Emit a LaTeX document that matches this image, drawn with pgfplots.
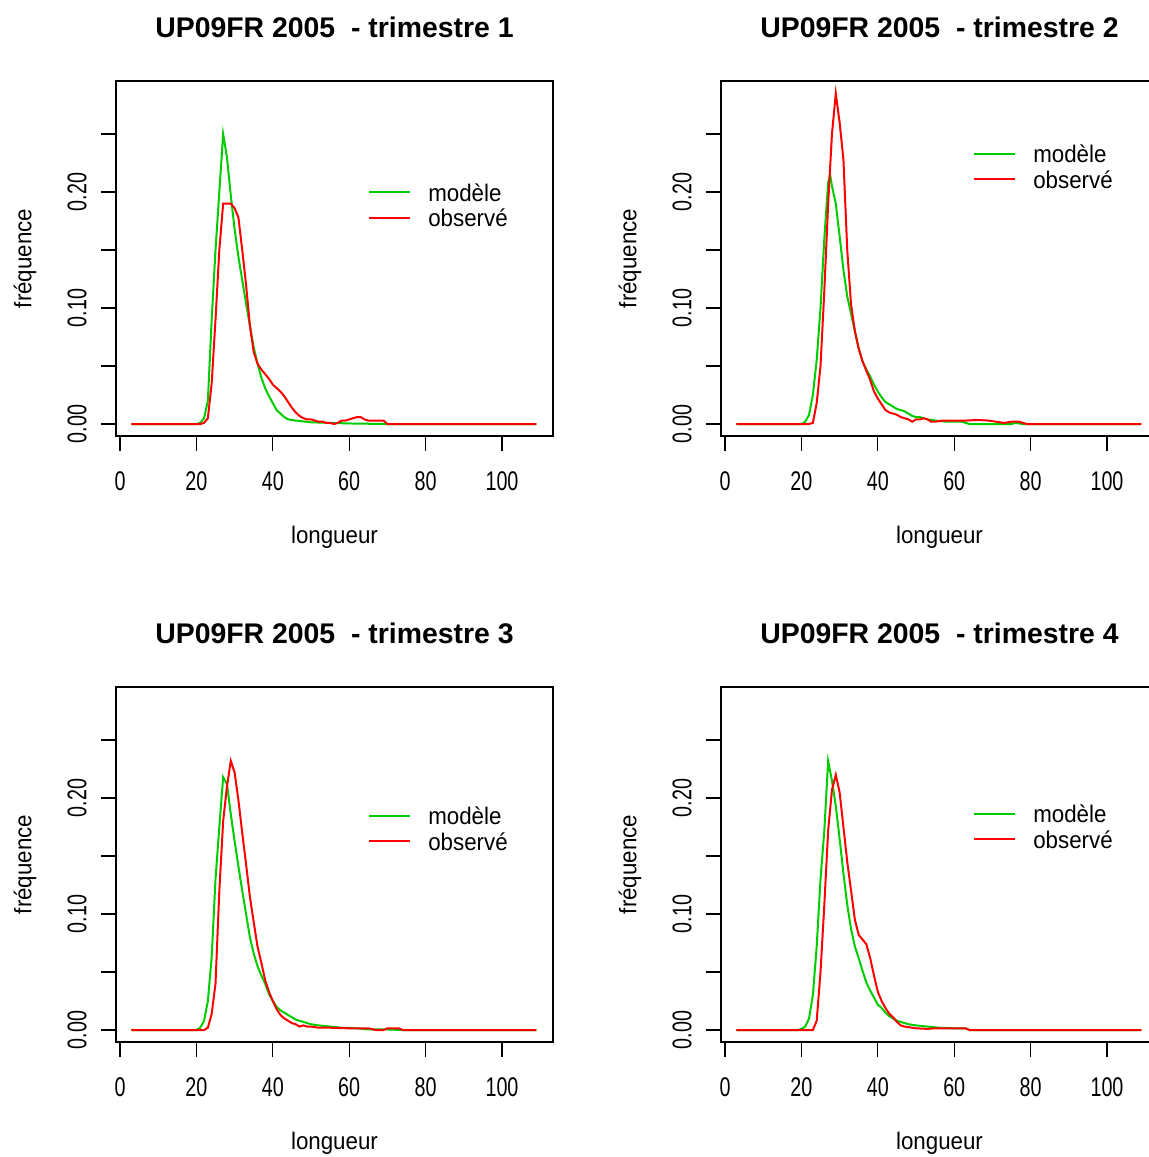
\documentclass[border=0pt]{standalone}
\usepackage{pgfplots}
\pgfplotsset{compat=1.18}
\usepackage{fontspec}
\setmainfont{Liberation Sans}
\newfontfamily\tickfont[FakeStretch=0.73]{Liberation Sans}
\newfontfamily\labfont[FakeStretch=0.93]{Liberation Sans}
\definecolor{rgreen}{RGB}{0,205,0}
\pgfplotsset{
  rpanel/.style={
    scale only axis, width=218.5pt, height=177.5pt, anchor=south west,
    xmin=-1.05, xmax=113.35, ymin=-0.0103, ymax=0.2957,
    xtick={0,20,40,60,80,100}, xticklabels={0,20,40,60,80,100},
    ytick={0,0.05,0.1,0.15,0.2,0.25}, yticklabels={0.00,,0.10,,0.20,},
    /pgf/number format/assume math mode=true,
    tick align=outside, tick pos=left, major tick length=7.5pt,
    axis line style={line width=0.6pt, black},
    every tick/.style={black, line width=0.6pt},
    xticklabel style={font=\tickfont\fontsize{13.5}{16}\selectfont, anchor=north, inner sep=0pt},
    yticklabel style={font=\tickfont\fontsize{13.5}{16}\selectfont, rotate=90, anchor=south, inner sep=0pt},
    xticklabel shift=10pt, yticklabel shift=7pt,
    xlabel={longueur}, ylabel={fréquence},
    xlabel style={font=\labfont\fontsize{12}{14}\selectfont, at={(axis description cs:0.5,-0.2859)}, anchor=center},
    ylabel style={font=\labfont\fontsize{12}{14}\selectfont, at={(axis description cs:-0.2082,0.5)}, anchor=center},
    title style={font=\bfseries\fontsize{14.2}{17}\selectfont, at={(axis description cs:0.5,1)}, anchor=base, yshift=15.75pt},
    legend cell align=left,
    legend image code/.code={\draw[##1, line width=1pt] (0pt,0pt) -- (20.5pt,0pt);},
    legend style={draw=none, fill=none, inner sep=0pt, anchor=west, row sep=0.8pt, column sep=8.5pt,
      font=\labfont\fontsize{12}{14}\selectfont, nodes={inner sep=0pt}},
    every axis plot/.append style={line width=1pt},
  }
}
\begin{document}
\begin{tikzpicture}
\useasboundingbox (0,0) rectangle (574.5pt,578.5pt);
% Panel 1
\begin{axis}[rpanel, at={(58pt,360.5pt)}, title={UP09FR 2005\ \ - trimestre 1},
  legend style={at={(axis cs:64.9,0.1889)}}]
\addplot[rgreen] coordinates {(3,0)(20,0)(21,0.001)(22,0.005)(23,0.02)(24,0.09)(25,0.15)(26,0.2)(27,0.25)(28,0.23)(29,0.197)(30,0.168)(31,0.144)(32,0.124)(33,0.104)(34,0.085)(35,0.066)(36,0.052)(37,0.04)(38,0.031)(39,0.024)(40,0.018)(41,0.012)(42,0.009)(43,0.006)(44,0.004)(46,0.003)(50,0.0015)(55,0.001)(60,0.0005)(70,0)(109,0)};
\addlegendentry{\rule{0pt}{10.5pt}modèle}
\addplot[red] coordinates {(3,0)(21,0)(22,0.001)(23,0.005)(24,0.035)(25,0.09)(26,0.15)(27,0.19)(28,0.19)(29,0.19)(30,0.186)(31,0.178)(32,0.15)(33,0.12)(34,0.085)(35,0.062)(36,0.052)(37,0.047)(38,0.043)(39,0.039)(40,0.034)(41,0.031)(42,0.028)(43,0.024)(44,0.019)(45,0.014)(46,0.01)(47,0.007)(48,0.005)(49,0.004)(50,0.004)(51,0.003)(52,0.002)(53,0.002)(54,0.001)(55,0.001)(56,0)(57,0.001)(58,0.003)(59,0.003)(60,0.004)(61,0.005)(62,0.006)(63,0.006)(64,0.004)(65,0.003)(69,0.003)(70,0)(109,0)};
\addlegendentry{\rule{0pt}{10.5pt}observé}
\end{axis}
% Panel 2
\begin{axis}[rpanel, at={(360.5pt,360.5pt)}, title={UP09FR 2005\ \ - trimestre 2},
  legend style={at={(axis cs:64.9,0.2221)}}]
\addplot[rgreen] coordinates {(3,0)(20,0)(21,0.002)(22,0.008)(23,0.025)(24,0.055)(25,0.1)(26,0.16)(27,0.208)(27.5,0.215)(28,0.205)(29,0.19)(30,0.162)(31,0.133)(32,0.11)(33,0.095)(34,0.08)(35,0.065)(36,0.054)(37,0.047)(38,0.041)(39,0.034)(40,0.028)(41,0.023)(42,0.019)(43,0.017)(44,0.015)(45,0.013)(46,0.012)(47,0.011)(48,0.009)(49,0.007)(50,0.006)(51,0.006)(52,0.005)(53,0.004)(55,0.003)(58,0.002)(62,0.002)(64,0)(75,0)(76,0.001)(78,0)(109,0)};
\addlegendentry{\rule{0pt}{10.5pt}modèle}
\addplot[red] coordinates {(3,0)(22,0)(23,0.001)(24,0.018)(25,0.05)(26,0.115)(27,0.19)(28,0.25)(29,0.285)(30,0.26)(31,0.228)(32,0.15)(33,0.103)(34,0.08)(35,0.065)(36,0.054)(37,0.046)(38,0.038)(39,0.028)(40,0.022)(41,0.017)(42,0.012)(43,0.01)(44,0.009)(45,0.008)(46,0.006)(47,0.005)(48,0.004)(49,0.002)(50,0.004)(51,0.004)(52,0.005)(53,0.004)(54,0.002)(55,0.002)(57,0.003)(60,0.003)(63,0.003)(66,0.0035)(69,0.003)(71,0.002)(73,0.001)(75,0.002)(77,0.002)(78,0.001)(79,0)(109,0)};
\addlegendentry{\rule{0pt}{10.5pt}observé}
\end{axis}
% Panel 3
\begin{axis}[rpanel, at={(58pt,57.5pt)}, title={UP09FR 2005\ \ - trimestre 3},
  legend style={at={(axis cs:64.9,0.1739)}}]
\addplot[rgreen] coordinates {(3,0)(20,0)(21,0.002)(22,0.008)(23,0.025)(24,0.063)(25,0.13)(26,0.175)(27,0.218)(28,0.212)(29,0.186)(30,0.163)(31,0.141)(32,0.12)(33,0.1)(34,0.08)(35,0.066)(36,0.055)(37,0.047)(38,0.04)(39,0.031)(40,0.025)(41,0.02)(42,0.017)(43,0.015)(44,0.013)(45,0.011)(46,0.009)(47,0.008)(48,0.007)(50,0.005)(52,0.004)(55,0.003)(58,0.002)(62,0.0015)(65,0.0005)(70,0.0005)(74,0)(109,0)};
\addlegendentry{\rule{0pt}{10.5pt}modèle}
\addplot[red] coordinates {(3,0)(22,0)(23,0.002)(24,0.014)(25,0.04)(26,0.12)(27,0.18)(28,0.21)(29,0.232)(30,0.222)(31,0.198)(32,0.17)(33,0.143)(34,0.115)(35,0.093)(36,0.072)(37,0.058)(38,0.043)(39,0.033)(40,0.025)(41,0.018)(42,0.013)(43,0.01)(44,0.008)(45,0.006)(46,0.005)(47,0.003)(48,0.004)(49,0.003)(50,0.003)(52,0.002)(55,0.002)(60,0.0015)(65,0.0015)(67,0)(69,0)(70,0.0015)(73,0.0015)(74,0)(109,0)};
\addlegendentry{\rule{0pt}{10.5pt}observé}
\end{axis}
% Panel 4
\begin{axis}[rpanel, at={(360.5pt,57.5pt)}, title={UP09FR 2005\ \ - trimestre 4},
  legend style={at={(axis cs:64.9,0.1756)}}]
\addplot[rgreen] coordinates {(3,0)(19,0)(20,0.001)(21,0.003)(22,0.01)(23,0.03)(24,0.072)(25,0.13)(26,0.172)(27,0.232)(28,0.215)(29,0.193)(30,0.165)(31,0.135)(32,0.108)(33,0.087)(34,0.072)(35,0.062)(36,0.051)(37,0.041)(38,0.034)(39,0.028)(40,0.022)(41,0.019)(42,0.015)(43,0.012)(44,0.01)(45,0.008)(46,0.007)(48,0.005)(50,0.004)(53,0.003)(56,0.002)(60,0.0015)(63,0.0015)(64,0)(109,0)};
\addlegendentry{\rule{0pt}{10.5pt}modèle}
\addplot[red] coordinates {(3,0)(23,0)(24,0.008)(25,0.05)(26,0.108)(27,0.172)(28,0.207)(29,0.22)(30,0.205)(31,0.175)(32,0.145)(33,0.12)(34,0.095)(35,0.082)(36,0.078)(37,0.074)(38,0.062)(39,0.047)(40,0.033)(41,0.025)(42,0.019)(43,0.014)(44,0.011)(45,0.007)(46,0.004)(47,0.003)(50,0.0015)(53,0.001)(55,0.0015)(63,0.0015)(64,0)(109,0)};
\addlegendentry{\rule{0pt}{10.5pt}observé}
\end{axis}
\end{tikzpicture}
\end{document}
